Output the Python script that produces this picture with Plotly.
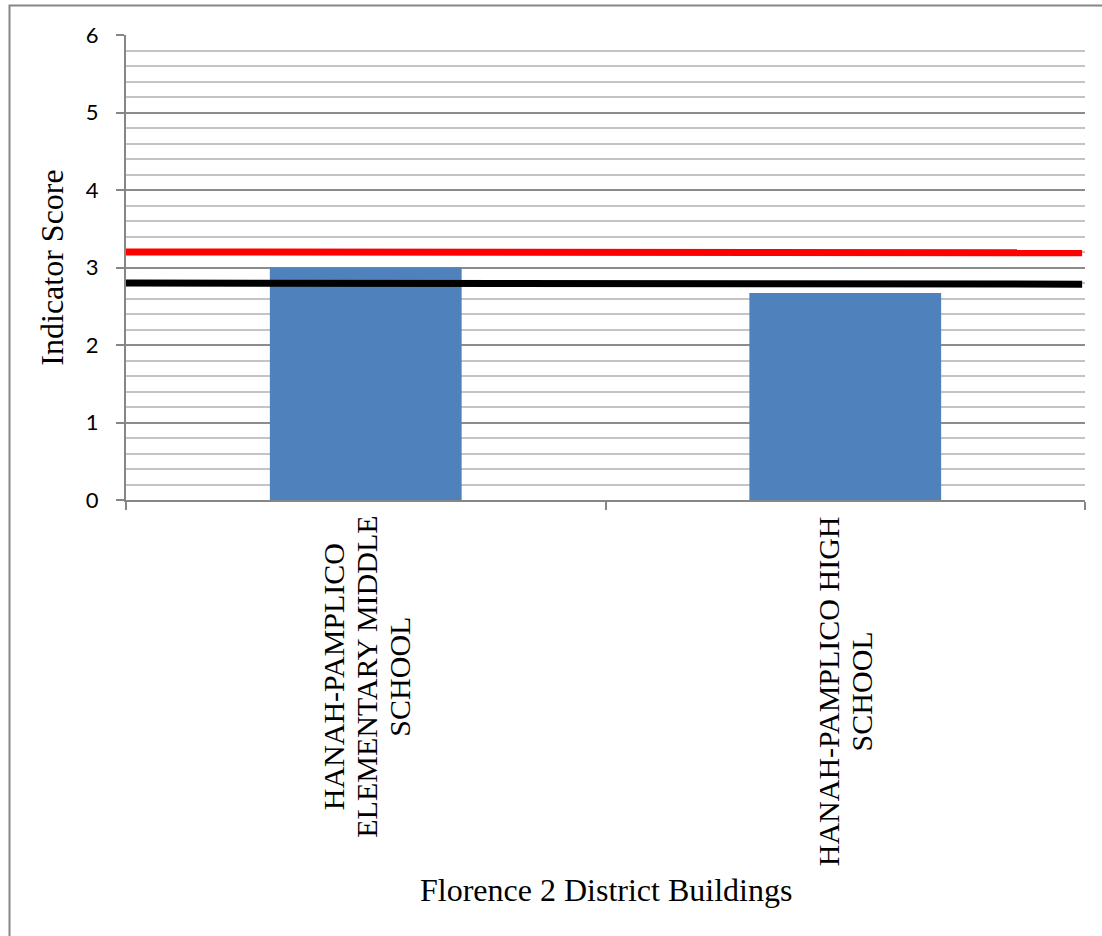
import plotly.graph_objects as go

categories = ["HANAH-PAMPLICO<br>ELEMENTARY MIDDLE<br>SCHOOL", "HANAH-PAMPLICO HIGH<br>SCHOOL"]
scores = [3.0, 2.67]
red_line = [3.2, 3.19]
black_line = [2.8, 2.785]
line_x = [0, 1]
y_ticks = [0, 1, 2, 3, 4, 5, 6]

W, H = 1102, 936
L, R, T, B = 126, 1085, 35, 500

fig = go.Figure()
fig.add_trace(go.Bar(x=categories, y=scores, marker=dict(color="#4f81bd", line=dict(width=0)),
                     showlegend=False))
fig.add_trace(go.Scatter(x=line_x, y=red_line, mode="lines", xaxis="x2",
                         line=dict(color="#ff0000", width=7), showlegend=False))
fig.add_trace(go.Scatter(x=line_x, y=black_line, mode="lines", xaxis="x2",
                         line=dict(color="#000000", width=7), showlegend=False))

def px_to_paper_x(px):
    return (px - L) / (R - L)

def px_to_paper_y(py):
    return (B - py) / (B - T)

for c in categories:
    styled = "<br>".join('<span style="font-size:30px">%s</span>' % part for part in c.split("<br>"))
    fig.add_annotation(x=c, xref="x", y=px_to_paper_y(514), yref="paper",
                       text=styled, textangle=-90, xanchor="center", yanchor="top",
                       align="center", showarrow=False,
                       font=dict(family="Liberation Serif", size=25.4, color="#000"))

fig.add_annotation(x=0.5, xref="paper", y=px_to_paper_y(890), yref="paper",
                   text="Florence 2 District Buildings", showarrow=False,
                   xanchor="center", yanchor="middle",
                   font=dict(family="Liberation Serif", size=32, color="#000"))

fig.add_shape(type="rect", xref="paper", yref="paper",
              x0=px_to_paper_x(9.5), x1=px_to_paper_x(1110),
              y0=px_to_paper_y(950), y1=px_to_paper_y(5.5),
              line=dict(color="#868686", width=2), layer="below")

fig.update_layout(
    width=W, height=H,
    margin=dict(l=L, r=W - R, t=T, b=H - B, autoexpand=False),
    paper_bgcolor="white", plot_bgcolor="white",
    bargap=0.6,
    xaxis=dict(showline=True, linecolor="#868686", linewidth=2,
               ticks="outside", tickson="boundaries", ticklen=8, tickcolor="#868686", tickwidth=2,
               showticklabels=False, showgrid=False, zeroline=False),
    xaxis2=dict(overlaying="x", range=[0, 1.003], visible=False),
    yaxis=dict(range=[0, 6], tickvals=y_ticks, showline=True, linecolor="#868686", linewidth=2,
               ticks="outside", ticklen=8, tickcolor="#868686", tickwidth=2,
               showgrid=True, gridcolor="#8c8c8c", gridwidth=2, zeroline=False,
               minor=dict(dtick=0.2, showgrid=True, gridcolor="#c4c4c4", gridwidth=2, ticks=""),
               tickfont=dict(family="Lato", size=22, color="#000"),
               ticklabelstandoff=13,
               title=dict(text="Indicator Score", standoff=13,
                          font=dict(family="Liberation Serif", size=32, color="#000"))),
)

fig.write_html("out.html", config={"displayModeBar": False},
               post_script="document.body.style.margin='0';")
